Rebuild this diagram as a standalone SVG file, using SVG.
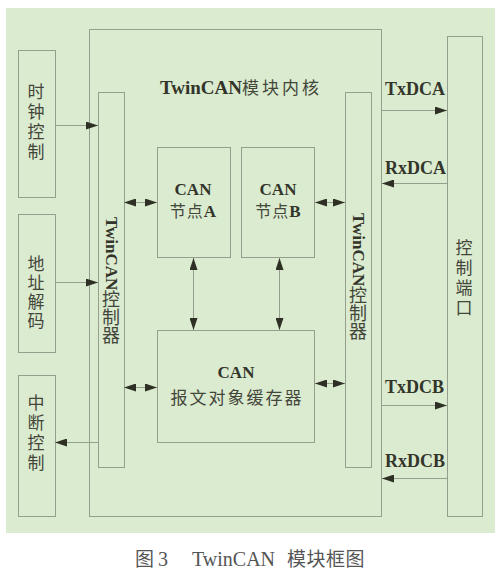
<svg xmlns="http://www.w3.org/2000/svg" width="500" height="587" viewBox="0 0 500 587">
<defs>
<marker id="ah" viewBox="0 0 12 8" refX="12" refY="4" markerWidth="12" markerHeight="8" markerUnits="userSpaceOnUse" orient="auto-start-reverse">
<path d="M0,0 L12,4 L0,8 z" fill="#2e2f25"/>
</marker>
<style>
.box{fill:none;stroke:#969f8e;stroke-width:1}
.ln{fill:none;stroke:#969f8e;stroke-width:1}
.t{font-family:"Liberation Serif","Noto Sans CJK SC",serif;fill:#33342a}
.b{font-weight:bold}
.cj{font-family:"Noto Sans CJK SC",sans-serif;fill:#44463a}
.v{writing-mode:vertical-rl}
</style>
</defs>
<rect x="0" y="0" width="500" height="587" fill="#ffffff"/>
<rect x="6" y="8" width="489" height="525" fill="#daebd0"/>

<g id="core">
<rect class="box" x="89.5" y="29.5" width="292" height="487"/>
<text class="t b" x="160" y="94" font-size="19">TwinCAN<tspan class="cj" font-weight="normal" font-size="17" letter-spacing="3">模块内核</tspan></text>
</g>

<g id="clock">
<rect class="box" x="18.5" y="50.5" width="37" height="147"/>
<text class="cj v" x="36" y="83" font-size="17" letter-spacing="3">时钟控制</text>
</g>

<g id="addr">
<rect class="box" x="18.5" y="214.5" width="37" height="138"/>
<text class="cj v" x="36" y="255" font-size="17" letter-spacing="2">地址解码</text>
</g>

<g id="intr">
<rect class="box" x="18.5" y="375.5" width="37" height="141"/>
<text class="cj v" x="36" y="394" font-size="17" letter-spacing="3">中断控制</text>
</g>

<g id="ctrlL">
<rect class="box" x="98.5" y="92.5" width="26" height="375"/>
<text class="t v" x="111" y="217" font-size="18"><tspan class="b" font-size="17">TwinCAN</tspan><tspan class="cj" font-size="18">控制器</tspan></text>
</g>

<g id="ctrlR">
<rect class="box" x="345.5" y="92.5" width="26" height="375"/>
<text class="t v" x="358" y="213" font-size="18"><tspan class="b" font-size="17">TwinCAN</tspan><tspan class="cj" font-size="18">控制器</tspan></text>
</g>

<g id="nodeA">
<rect class="box" x="157.5" y="147.5" width="73" height="110"/>
<text class="t b" x="193" y="195" font-size="17" text-anchor="middle">CAN</text>
<text class="t" x="193" y="217" font-size="17" text-anchor="middle"><tspan class="cj" font-size="16" letter-spacing="1">节点</tspan><tspan class="b">A</tspan></text>
</g>

<g id="nodeB">
<rect class="box" x="241.5" y="147.5" width="73" height="110"/>
<text class="t b" x="278" y="195" font-size="17" text-anchor="middle">CAN</text>
<text class="t" x="278" y="217" font-size="17" text-anchor="middle"><tspan class="cj" font-size="16" letter-spacing="1">节点</tspan><tspan class="b">B</tspan></text>
</g>

<g id="buffer">
<rect class="box" x="157.5" y="330.5" width="157" height="112"/>
<text class="t b" x="236" y="378" font-size="17" text-anchor="middle">CAN</text>
<text class="cj" x="237" y="404" font-size="17" text-anchor="middle" letter-spacing="2">报文对象缓存器</text>
</g>

<g id="port">
<rect class="box" x="447.5" y="36.5" width="35" height="480"/>
<text class="cj v" x="464" y="239" font-size="17" letter-spacing="3">控制端口</text>
</g>

<g id="connectors">
<line class="ln" x1="55" y1="125.5" x2="98" y2="125.5" marker-end="url(#ah)"/>
<line class="ln" x1="55" y1="282.5" x2="98" y2="282.5" marker-end="url(#ah)"/>
<line class="ln" x1="98" y1="442.5" x2="55" y2="442.5" marker-end="url(#ah)"/>
<line class="ln" x1="124" y1="202.5" x2="157" y2="202.5" marker-start="url(#ah)" marker-end="url(#ah)"/>
<line class="ln" x1="124" y1="387.5" x2="157" y2="387.5" marker-start="url(#ah)" marker-end="url(#ah)"/>
<line class="ln" x1="315" y1="202.5" x2="345" y2="202.5" marker-start="url(#ah)" marker-end="url(#ah)"/>
<line class="ln" x1="315" y1="383.5" x2="345" y2="383.5" marker-start="url(#ah)" marker-end="url(#ah)"/>
<line class="ln" x1="193.5" y1="258" x2="193.5" y2="330" marker-start="url(#ah)" marker-end="url(#ah)"/>
<line class="ln" x1="279.5" y1="258" x2="279.5" y2="330" marker-start="url(#ah)" marker-end="url(#ah)"/>
<line class="ln" x1="381" y1="110.5" x2="447" y2="110.5" marker-end="url(#ah)"/>
<line class="ln" x1="447" y1="183.5" x2="382" y2="183.5" marker-end="url(#ah)"/>
<line class="ln" x1="381" y1="405.5" x2="447" y2="405.5" marker-end="url(#ah)"/>
<line class="ln" x1="447" y1="478.5" x2="382" y2="478.5" marker-end="url(#ah)"/>
<text class="t b" x="385" y="95" font-size="18">TxDCA</text>
<text class="t b" x="385" y="174" font-size="18">RxDCA</text>
<text class="t b" x="385" y="393" font-size="18">TxDCB</text>
<text class="t b" x="385" y="467" font-size="18">RxDCB</text>
</g>

<g id="caption">
<text x="135" y="566" font-size="20" fill="#555555" font-family="'Liberation Serif','Noto Sans CJK SC',serif"><tspan font-family="'Noto Sans CJK SC',sans-serif" font-size="19">图</tspan><tspan x="158">3</tspan><tspan x="192">TwinCAN</tspan><tspan x="287" font-family="'Noto Sans CJK SC',sans-serif" font-size="19" letter-spacing="0.5">模块框图</tspan></text>
</g>
</svg>
